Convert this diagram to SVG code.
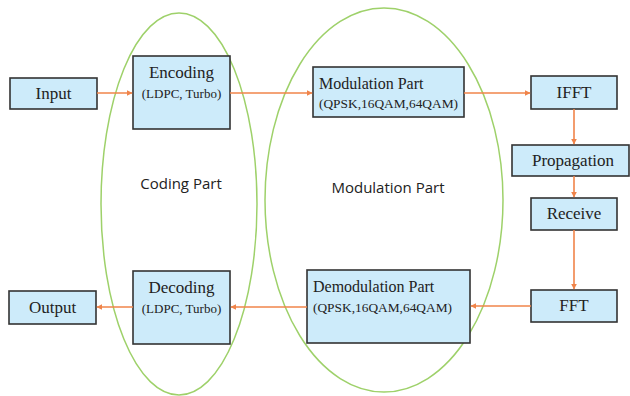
<svg xmlns="http://www.w3.org/2000/svg" width="630" height="396" viewBox="0 0 630 396">
<defs>
<marker id="ah" viewBox="0 0 10 10" refX="9" refY="5" markerWidth="6" markerHeight="6" markerUnits="userSpaceOnUse" orient="auto">
<path d="M0,0 L10,5 L0,10 z" fill="#f0844a"/>
</marker>
</defs>
<style>
.box{fill:#cdebfa;stroke:#333;stroke-width:1.6}
.t{font-family:"Liberation Serif",serif;font-size:17px;fill:#222;text-anchor:middle}
.s{font-family:"Liberation Serif",serif;font-size:13px;fill:#222;text-anchor:middle}
.sl{font-family:"Liberation Serif",serif;fill:#222}
.grp{fill:none;stroke:#9ed16a;stroke-width:1.5}
.gl{font-family:"Open Sans","Noto Sans",sans-serif;font-size:15px;fill:#222;text-anchor:middle}
.c{stroke:#f0844a;stroke-width:1.6;fill:none;marker-end:url(#ah)}
</style>
<rect width="630" height="396" fill="#fff"/>
<g id="groups">
<ellipse class="grp" cx="179" cy="204" rx="78" ry="191"/>
<ellipse class="grp" cx="384" cy="200" rx="119" ry="192"/>
<text class="gl" x="181" y="189">Coding Part</text>
<text class="gl" x="388" y="193">Modulation Part</text>
</g>
<g id="input"><rect class="box" x="10" y="78" width="87" height="31"/><text class="t" x="53.5" y="99">Input</text></g>
<g id="encoding"><rect class="box" x="133" y="56" width="97" height="73"/><text class="t" x="181.5" y="78">Encoding</text><text class="s" x="181.5" y="98">(LDPC, Turbo)</text></g>
<g id="modulation"><rect class="box" x="313" y="67" width="151" height="50"/><text class="sl" x="319" y="89" font-size="16">Modulation Part</text><text class="sl" x="319" y="108" font-size="12.5" textLength="139" lengthAdjust="spacingAndGlyphs">(QPSK,16QAM,64QAM)</text></g>
<g id="ifft"><rect class="box" x="531" y="76" width="86" height="33"/><text class="t" x="574" y="98">IFFT</text></g>
<g id="propagation"><rect class="box" x="512" y="145" width="117" height="31"/><text class="t" x="573" y="166">Propagation</text></g>
<g id="receive"><rect class="box" x="531" y="198" width="86" height="32"/><text class="t" x="574" y="219">Receive</text></g>
<g id="fft"><rect class="box" x="531" y="290" width="86" height="32"/><text class="t" x="574" y="311">FFT</text></g>
<g id="demodulation"><rect class="box" x="307" y="270" width="163" height="73"/><text class="sl" x="313" y="292" font-size="16">Demodulation Part</text><text class="sl" x="313" y="312" font-size="12.5" textLength="139" lengthAdjust="spacingAndGlyphs">(QPSK,16QAM,64QAM)</text></g>
<g id="decoding"><rect class="box" x="133" y="271" width="97" height="73"/><text class="t" x="181.5" y="293">Decoding</text><text class="s" x="181.5" y="313">(LDPC, Turbo)</text></g>
<g id="output"><rect class="box" x="9" y="291" width="87" height="33"/><text class="t" x="52.5" y="313">Output</text></g>
<g id="connectors">
<path class="c" d="M97,93 H132"/>
<path class="c" d="M230,93 H312"/>
<path class="c" d="M464,93 H530"/>
<path class="c" d="M574,109 V144"/>
<path class="c" d="M574,176 V197"/>
<path class="c" d="M574,230 V289"/>
<path class="c" d="M531,306 H471"/>
<path class="c" d="M307,307 H231"/>
<path class="c" d="M133,307 H97"/>
</g>
</svg>
